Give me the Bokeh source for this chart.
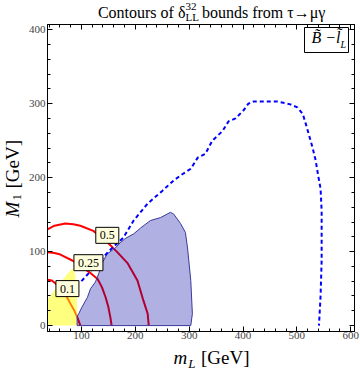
import math
from bokeh.plotting import figure
from bokeh.layouts import row, column
from bokeh.models import LinearAxis, FixedTicker, Label, BoxAnnotation
from bokeh.embed import file_html
from bokeh.resources import INLINE

# ---- tick labels ----
x_major = [100, 200, 300, 400, 500, 600]
y_major = [0, 100, 200, 300, 400]
x_minor = list(range(40, 620, 20))
y_minor = list(range(0, 420, 20))

# ---- blue dashed contour (upper bound) ----
blue_x = [100, 125, 150, 178, 197, 223, 250, 271, 284, 303, 316, 330, 343, 362, 373, 386, 401, 410,
          420, 440, 464, 488, 501, 511, 516, 522, 529, 535, 539, 544, 546, 546, 544, 541]
blue_y = [60, 80, 100, 119, 142, 165, 182, 196, 203, 212, 227, 232, 250, 263, 276, 280, 291, 300,
          303, 303, 303, 299, 295, 286, 274, 259, 241, 223, 205, 185, 155, 88, 40, 0]

# ---- blue shaded region ----
region_x = [92, 92, 95, 101, 111, 117, 126, 132, 138, 148, 163, 172, 182, 197, 210, 228, 247, 265,
            271, 284, 293, 297, 303, 306, 303]
region_y = [0, 12, 16, 25, 38, 50, 59, 70, 84, 97, 105, 112, 118, 124, 132, 142, 146, 153,
            151, 138, 126, 105, 61, 16, 0]

# ---- yellow region ----
yellow_x = [37, 37, 50, 65, 78, 84, 88, 91, 92, 92]
yellow_y = [0, 35, 48, 62, 73, 77, 70, 50, 20, 0]

# ---- red contours of delta ----
c01_x = [37, 45, 52, 62, 72, 80, 87, 93, 98]
c01_y = [62, 61, 57, 50, 40, 29, 20, 10, 0]
c025_x = [37, 50, 61, 83, 100, 115, 130, 138, 145, 150, 154, 156]
c025_y = [99, 98, 96, 88, 80, 72, 63, 52, 38, 25, 10, 0]
c05_x = [37, 50, 70, 85, 98, 122, 145, 167, 186, 204, 215, 223, 225]
c05_y = [130, 135, 138, 137, 135, 128, 115, 99, 84, 61, 34, 16, 0]

contour_labels = ["0.1", "0.25", "0.5"]
contour_label_x = [74, 113, 148]
contour_label_y = [50, 85, 122]

SERIF = "Liberation Serif"
W, H = 360, 373
LEFT_W = 24            # width of the y-label strip
COL_W = W - LEFT_W     # width of the column holding title, plot, x-label
TITLE_H = 22
XLAB_H = 26
MAIN_H = H - TITLE_H - XLAB_H
FL, FR, FT, FB = 47, 354, 24, 331   # frame edges in page pixels


def text_fig(w, h):
    f = figure(width=w, height=h, x_range=(0, w), y_range=(h, 0),
               output_backend="svg", toolbar_location=None, min_border=0,
               x_axis_location=None, y_axis_location=None)
    f.outline_line_color = None
    f.grid.visible = False
    f.background_fill_color = "white"
    f.border_fill_color = "white"
    return f


def tl(f, text, x, y, size, italic=False, align="left", angle=0.0):
    f.add_layout(Label(x=x, y=y, text=text, text_font=SERIF, text_font_size=f"{size}px",
                       text_font_style="italic" if italic else "normal",
                       text_align=align, text_baseline="alphabetic", angle=angle,
                       text_color="black"))


# ---------------- main plot ----------------
p = figure(width=COL_W, height=MAIN_H, x_range=(37, 607), y_range=(-8, 407),
           output_backend="svg", toolbar_location=None,
           min_border_left=FL - LEFT_W, min_border_right=W - FR,
           min_border_top=FT - TITLE_H, min_border_bottom=TITLE_H + MAIN_H - FB)
p.grid.visible = False
p.outline_line_color = "black"
p.outline_line_width = 1
p.background_fill_color = "white"
p.border_fill_color = "white"


def style_axis(ax, ticks, labels=True):
    ax.axis_line_color = "black"
    ax.major_tick_in = 5
    ax.major_tick_out = 0
    ax.minor_tick_in = 3
    ax.minor_tick_out = 0
    ax.major_tick_line_color = "black"
    ax.minor_tick_line_color = "black"
    ax.major_label_text_font = SERIF
    ax.major_label_text_color = "#444444"
    if labels:
        ax.major_label_text_font_size = "11px"
        ax.major_label_standoff = 2
    else:
        ax.major_label_overrides = {t: "" for t in ticks}
        ax.major_label_text_font_size = "1px"
        ax.major_label_standoff = 0


p.xaxis.ticker = FixedTicker(ticks=x_major, minor_ticks=x_minor)
p.yaxis.ticker = FixedTicker(ticks=y_major, minor_ticks=y_minor)
style_axis(p.xaxis[0], x_major)
style_axis(p.yaxis[0], y_major)
p.xaxis[0].major_label_standoff = 0

top_ax = LinearAxis(ticker=FixedTicker(ticks=x_major, minor_ticks=x_minor))
right_ax = LinearAxis(ticker=FixedTicker(ticks=y_major, minor_ticks=y_minor))
style_axis(top_ax, x_major, labels=False)
style_axis(right_ax, y_major, labels=False)
p.add_layout(top_ax, "above")
p.add_layout(right_ax, "right")

# red contours under the translucent fills
for cx, cy in [(c01_x, c01_y), (c025_x, c025_y), (c05_x, c05_y)]:
    p.line(cx, cy, line_color="red", line_width=2)

p.patch(yellow_x, yellow_y, fill_color="#ffff00", fill_alpha=0.5, line_color=None)
p.patch(region_x, region_y, fill_color="#0000a0", fill_alpha=0.31,
        line_color="#3a3a9c", line_width=1)
p.line(blue_x, blue_y, line_color="blue", line_width=2, line_dash="4 3")

for t, lx, ly in zip(contour_labels, contour_label_x, contour_label_y):
    p.add_layout(Label(x=lx, y=ly, text=t, text_align="center", text_baseline="middle",
                       text_font=SERIF, text_font_size="12px", text_color="black",
                       background_fill_color="#ffffdd", border_line_color="black",
                       border_line_width=1, padding=4))

# legend box (screen units are relative to the frame, y upward)
p.add_layout(BoxAnnotation(left=304 - FL, right=348 - FL, top=FB - 27, bottom=FB - 52,
                           left_units="screen", right_units="screen",
                           top_units="screen", bottom_units="screen",
                           fill_color="white", fill_alpha=1.0,
                           line_color="black", line_width=1, line_alpha=1.0))
p.add_layout(Label(x=311 - FL, y=FB - 45, x_units="screen", y_units="screen",
                   text="B\u0303 \u2212l\u0303", text_font=SERIF, text_font_size="16px",
                   text_font_style="italic", text_color="black"))
p.add_layout(Label(x=340 - FL, y=FB - 49, x_units="screen", y_units="screen",
                   text="L", text_font=SERIF, text_font_size="10px",
                   text_font_style="italic", text_color="black"))

# ---------------- title strip ----------------
tf = text_fig(COL_W, TITLE_H)
ox = LEFT_W
tl(tf, "Contours of δ", 175 - ox, 12, 16, align="right")
tl(tf, "32", 175 - ox, 6, 11)
tl(tf, "LL", 175 - ox, 16, 11)
tl(tf, "bounds from τ→μγ", 193 - ox, 12, 16)

# ---------------- x-label strip ----------------
xf = text_fig(COL_W, XLAB_H)
oy = TITLE_H + MAIN_H
tl(xf, "m", 162 - ox, 357 - oy, 19, italic=True)
tl(xf, "L", 178 - ox, 363 - oy, 13, italic=True)
tl(xf, "[GeV]", 192 - ox, 357 - oy, 19)

# ---------------- y-label strip ----------------
yf = text_fig(LEFT_W, H)
tl(yf, "M", 12, 217, 19, italic=True, angle=math.pi / 2)
tl(yf, "1", 16, 200, 13, angle=math.pi / 2)
tl(yf, "[GeV]", 12, 188, 19, angle=math.pi / 2)

layout = row(yf, column(tf, p, xf))

open("out.html", "w").write(file_html(layout, INLINE))
